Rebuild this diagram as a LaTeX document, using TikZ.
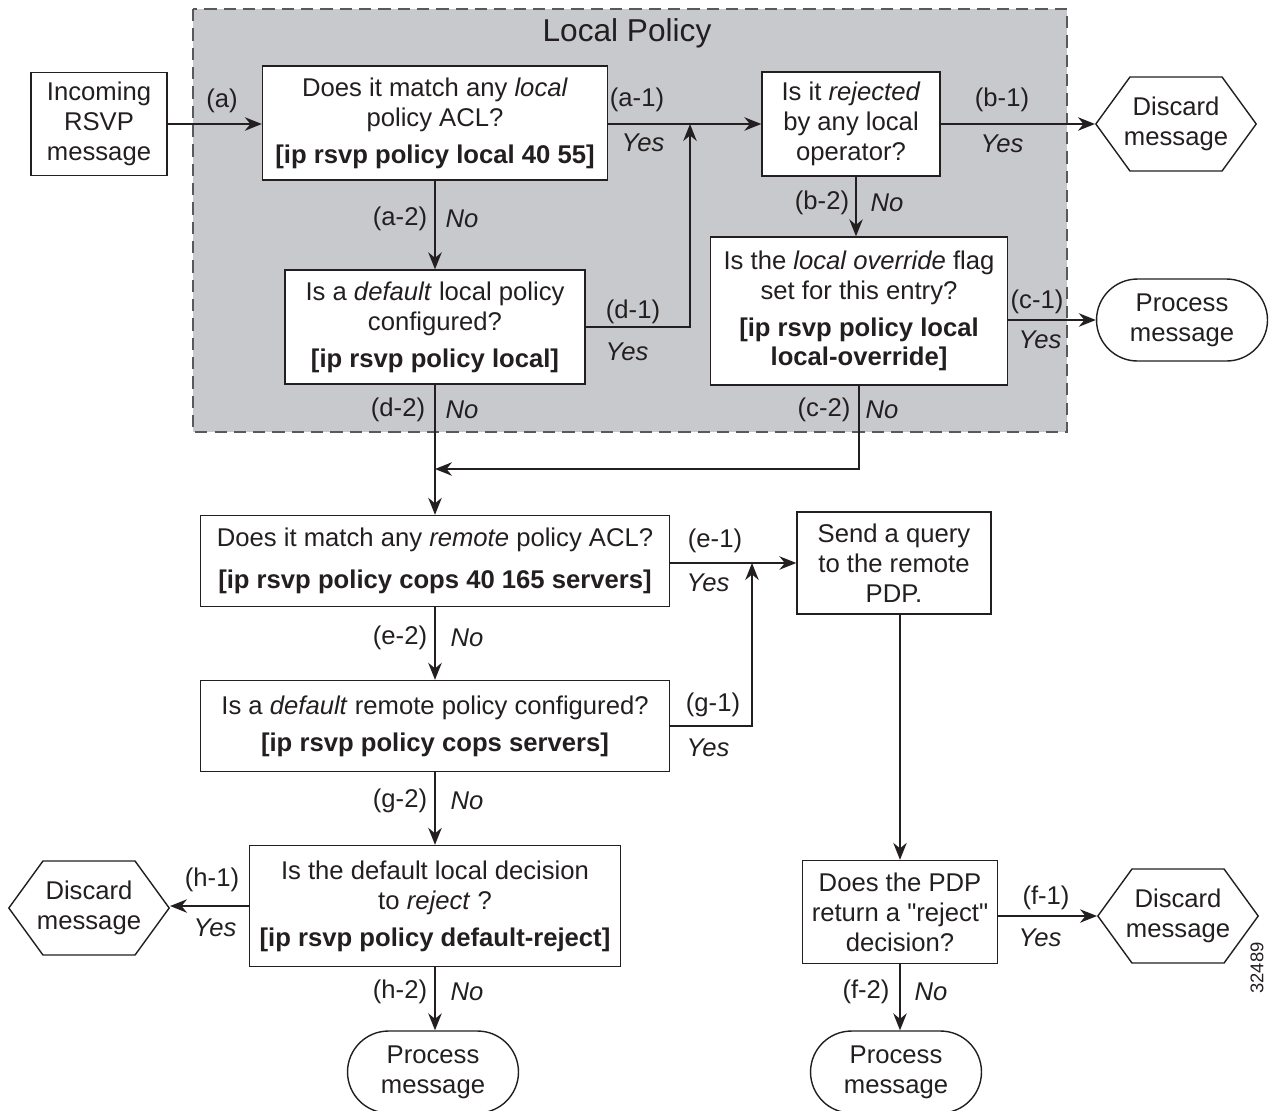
\documentclass[tikz,border=0pt]{standalone}
\usepackage{fontspec}
\setmainfont{Liberation Sans}
\usetikzlibrary{arrows.meta,shapes.symbols,shapes.misc}
\definecolor{policygray}{RGB}{200,201,204}
\definecolor{inkgray}{RGB}{35,31,32}
\newcommand\plainquote{\XeTeXglyph\XeTeXglyphindex "quotedbl"\relax}
\tikzset{
  box/.style={draw=inkgray, fill=white, line width=0.8pt, align=center, inner sep=0pt},
  discard/.style={draw=inkgray, fill=white, line width=0.8pt, align=center, inner ysep=0pt,
    inner xsep=-0.12cm, signal, signal to=west and east, signal pointer angle=108,
    minimum height=1.88cm},
  process/.style={draw=inkgray, fill=white, line width=0.8pt, align=center, inner sep=0pt,
    rounded rectangle, minimum width=3.42cm, minimum height=1.64cm},
  flow/.style={draw=inkgray, line width=0.8pt, -{Stealth[length=3.4mm,width=2.7mm]}},
  lbl/.style={inner sep=0pt, text=inkgray}
}
\begin{document}
\begin{tikzpicture}[x=0.02cm, y=-0.02cm, font=\fontsize{14.6}{17}\selectfont, text=inkgray]
    \useasboundingbox (0,0) rectangle (1270,1110);
    % local policy area
    \draw[fill=policygray, draw=black!65, line width=0.8pt, dash pattern=on 7pt off 4pt] (193,9) rectangle (1067,432);
    \node[lbl, font=\fontsize{18}{20}\selectfont] (localtitle) at (627,33) {Local Policy};
    % boxes
    \node[box, minimum width=2.72cm, minimum height=2.06cm] (incoming) at (99,124) {Incoming\\RSVP\\message};
    \node[box, minimum width=6.9cm, minimum height=2.28cm] (matchlocal) at (435,123) {Does it match any \textit{local}\\policy ACL?\\[4pt]\textbf{[ip rsvp policy local 40 55]}};
    \node[box, minimum width=3.56cm, minimum height=2.08cm] (rejected) at (851,124) {Is it \textit{rejected}\\by any local\\operator?};
    \node[discard] (discardtop) at (1176,124) {Discard\\message};
    \node[box, minimum width=6.0cm, minimum height=2.28cm] (defaultlocal) at (435,327) {Is a \textit{default} local policy\\configured?\\[4pt]\textbf{[ip rsvp policy local]}};
    \node[box, minimum width=5.94cm, minimum height=2.96cm] (override) at (859,311) {Is the \textit{local override} flag\\set for this entry?\\[4pt]\textbf{[ip rsvp policy local}\\\textbf{local-override]}};
    \node[process] (processtop) at (1182,320) {Process\\message};
    \node[box, minimum width=9.38cm, minimum height=1.82cm] (matchremote) at (435,561) {Does it match any \textit{remote} policy ACL?\\[7pt]\textbf{[ip rsvp policy cops 40 165 servers]}};
    \node[box, minimum width=3.88cm, minimum height=2.04cm] (query) at (894,563) {Send a query\\to the remote\\PDP.};
    \node[box, minimum width=9.38cm, minimum height=1.82cm] (defaultremote) at (435,726) {Is a \textit{default} remote policy configured?\\[4pt]\textbf{[ip rsvp policy cops servers]}};
    \node[box, minimum width=7.42cm, minimum height=2.42cm] (decision) at (435,906) {Is the default local decision\\to \textit{reject} ?\\[4pt]\textbf{[ip rsvp policy default-reject]}};
    \node[discard] (discardleft) at (89,908) {Discard\\message};
    \node[box, minimum width=3.9cm, minimum height=2.06cm] (pdp) at (900,912) {Does the PDP\\return a \plainquote reject\plainquote\\decision?};
    \node[discard] (discardright) at (1178,916) {Discard\\message};
    \node[process] (processleft) at (433,1072) {Process\\message};
    \node[process] (processright) at (896,1072) {Process\\message};
    % junction points
    \coordinate (joinlocal) at (690,124);
    \coordinate (joinremote) at (435,469);
    \coordinate (joinquery) at (752,563);
    % connectors
    \draw[flow] (incoming.east) -- (incoming.east -| matchlocal.west);
    \draw[flow] (matchlocal.east |- rejected.west) -- (rejected.west);
    \draw[flow] (defaultlocal.east) -| (joinlocal);
    \draw[flow] (rejected.east) -- (discardtop.west);
    \draw[flow] (matchlocal.south) -- (defaultlocal.north);
    \draw[flow] ([xshift=0.1cm]rejected.south) -- ([xshift=0.1cm]rejected.south |- override.north);
    \draw[flow] (override.east |- processtop.west) -- (processtop.west);
    \draw[flow] (defaultlocal.south) -- (matchremote.north);
    \draw[flow] (override.south) |- (joinremote);
    \draw[flow] (matchremote.east |- query.west) -- (query.west);
    \draw[flow] (defaultremote.east) -| (joinquery);
    \draw[flow] (matchremote.south) -- (defaultremote.north);
    \draw[flow] (defaultremote.south) -- (decision.north);
    \draw[flow] (decision.west) -- (decision.west -| discardleft.east);
    \draw[flow] (decision.south) -- (decision.south |- processleft.north);
    \draw[flow] (query.south -| pdp.north) -- (pdp.north);
    \draw[flow] (pdp.east |- discardright.west) -- (discardright.west);
    \draw[flow] (pdp.south) -- (pdp.south |- processright.north);
    % branch labels
    \node[lbl] (la) at (222,101) {(a)};
    \node[lbl] (la1) at (637,100) {(a-1)};
    \node[lbl] (la1y) at (643,143) {\textit{Yes}};
    \node[lbl] (lb1) at (1002,100) {(b-1)};
    \node[lbl] (lb1y) at (1002,144) {\textit{Yes}};
    \node[lbl] (la2) at (400,219) {(a-2)};
    \node[lbl] (la2n) at (462,219) {\textit{No}};
    \node[lbl] (lb2) at (822,203) {(b-2)};
    \node[lbl] (lb2n) at (887,203) {\textit{No}};
    \node[lbl] (ld1) at (633,312) {(d-1)};
    \node[lbl] (ld1y) at (627,352) {\textit{Yes}};
    \node[lbl] (lc1) at (1037,302) {(c-1)};
    \node[lbl] (lc1y) at (1040,340) {\textit{Yes}};
    \node[lbl] (ld2) at (398,410) {(d-2)};
    \node[lbl] (ld2n) at (462,410) {\textit{No}};
    \node[lbl] (lc2) at (824,410) {(c-2)};
    \node[lbl] (lc2n) at (882,410) {\textit{No}};
    \node[lbl] (le1) at (715,541) {(e-1)};
    \node[lbl] (le1y) at (708,583) {\textit{Yes}};
    \node[lbl] (le2) at (400,638) {(e-2)};
    \node[lbl] (le2n) at (467,638) {\textit{No}};
    \node[lbl] (lg1) at (713,705) {(g-1)};
    \node[lbl] (lg1y) at (708,748) {\textit{Yes}};
    \node[lbl] (lg2) at (400,801) {(g-2)};
    \node[lbl] (lg2n) at (467,801) {\textit{No}};
    \node[lbl] (lh1) at (212,880) {(h-1)};
    \node[lbl] (lh1y) at (215,928) {\textit{Yes}};
    \node[lbl] (lf1) at (1046,898) {(f-1)};
    \node[lbl] (lf1y) at (1040,938) {\textit{Yes}};
    \node[lbl] (lh2) at (400,992) {(h-2)};
    \node[lbl] (lh2n) at (467,992) {\textit{No}};
    \node[lbl] (lf2) at (866,992) {(f-2)};
    \node[lbl] (lf2n) at (931,992) {\textit{No}};
    \node[lbl, rotate=90, font=\fontsize{10.5}{12}\selectfont] (figno) at (1257,968) {32489};
\end{tikzpicture}
\end{document}
